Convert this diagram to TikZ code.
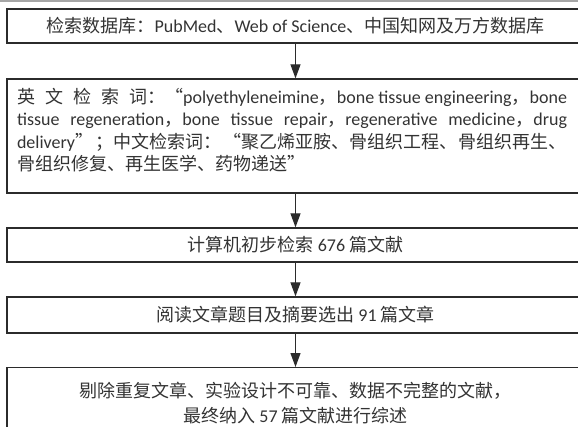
\documentclass[tikz,border=0pt]{standalone}
\usepackage{fontspec}
\setmainfont{Noto Sans CJK SC}
\newfontfamily\lat{Carlito}
\usetikzlibrary{arrows.meta}
\definecolor{txt}{HTML}{333333}
\definecolor{ln}{HTML}{2B2B2B}
\hbadness=10000
\newcommand\lnstrut{\vrule height 16.5pt depth 6pt width 0pt}
\begin{document}
\begin{tikzpicture}[x=1pt,y=1pt,
  box/.style={draw=ln, line width=1.3pt, minimum width=577pt, inner sep=0pt,
    text=txt, font=\fontsize{18}{21}\selectfont},
  arr/.style={draw=ln, line width=1.2pt, -{Triangle[length=14pt,width=10pt]}}]
\useasboundingbox (0,0) rectangle (578,-426);
\clip (0,0) rectangle (578,-426);
\draw[gray!70, line width=2pt] (0,-0.5) -- (578,-0.5);
\node[box, minimum height=34pt] (b1) at (295.5,-26)
  {检索数据库：{\lat PubMed}、{\lat Web of Science}、中国知网及万方数据库};
\node[box, minimum height=114pt] (b2) at (295.5,-136)
  {\hbox{\vbox{\offinterlineskip
   \hbox to 550pt{\lnstrut 英\hfil 文\hfil 检\hfil 索\hfil 词：“{\lat polyethyleneimine}，{\lat bone tissue engineering}，{\lat bone}}
   \hbox to 550pt{\lnstrut{\lat tissue regeneration}，{\lat bone tissue repair}，{\lat regenerative medicine}，{\lat drug}}
   \hbox to 550pt{\lnstrut{\lat delivery}”\hfil；中文检索词：\hfil“聚乙烯亚胺、骨组织工程、\hfil 骨组织再生、}
   \hbox to 550pt{\lnstrut 骨组织修复、再生医学、药物递送”\hfil}
   \kern9pt}\kern7pt}};
\node[box, minimum height=34pt] (b3) at (295.5,-245)
  {计算机初步检索{\lat\ 676\ }篇文献};
\node[box, minimum height=36pt] (b4) at (295.5,-315)
  {阅读文章题目及摘要选出{\lat\ 91\ }篇文章};
\node[box, anchor=north, minimum height=71pt, align=center] (b5) at (295.5,-367)
  {剔除重复文章、实验设计不可靠、数据不完整的文献，\\[4pt]最终纳入{\lat\ 57\ }篇文献进行综述};
\draw[arr] (b1) -- (b2);
\draw[arr] (b2) -- (b3);
\draw[arr] (b3) -- (b4);
\draw[arr] (b4) -- (b5);
\end{tikzpicture}
\end{document}
